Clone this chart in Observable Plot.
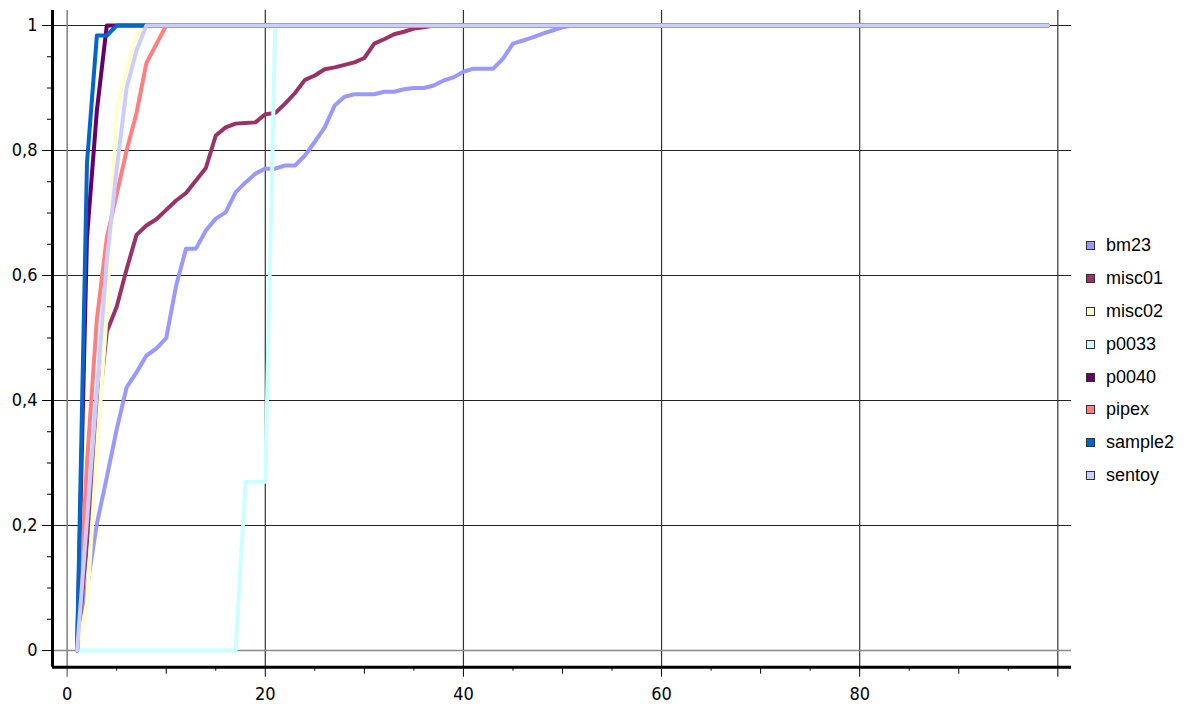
<!DOCTYPE html>
<html>
<head>
<meta charset="utf-8">
<script src="https://cdn.jsdelivr.net/npm/d3@7"></script>
<script src="https://cdn.jsdelivr.net/npm/@observablehq/plot@0.6"></script>
<style>
  body { margin: 0; background: #fff; }
  #wrap { position: relative; width: 1191px; height: 704px; }
  #legend { position: absolute; left: 1086px; top: 229px; font-family: "Liberation Sans", "DejaVu Sans", sans-serif; font-size: 18px; color: #000; }
  .row { height: 32.9px; display: flex; align-items: center; white-space: nowrap; }
  .sw { width: 7px; height: 7px; border: 1px solid #333; margin-right: 11px; flex: none; }
</style>
</head>
<body>
<div id="wrap"><div id="chart"></div><div id="legend"></div></div>
<script>
// ---- data ----
const seriesNames = ["bm23", "misc01", "misc02", "p0033", "p0040", "pipex", "sample2", "sentoy"];
const seriesColors = ["#9999ff", "#993366", "#ffffcc", "#ccffff", "#660066", "#ff8080", "#0066cc", "#ccccff"];
const xFirst = 1;   // first x of every series
const xLast = 99;   // every series ends at (99, 1)

const bm23 = [0, 0.1, 0.203, 0.277, 0.354, 0.421, 0.445, 0.472, 0.483, 0.5,
  0.584, 0.643, 0.643, 0.672, 0.691, 0.701, 0.733, 0.749, 0.763, 0.771,
  0.771, 0.776, 0.776, 0.792, 0.814, 0.837, 0.872, 0.886, 0.89, 0.89,
  0.89, 0.894, 0.894, 0.898, 0.9, 0.9, 0.904, 0.912, 0.917, 0.926,
  0.931, 0.931, 0.931, 0.947, 0.971, 0.976, 0.981, 0.987, 0.992, 0.997, 1];
const misc01 = [0, 0.17, 0.36, 0.51, 0.55, 0.61, 0.665, 0.68, 0.69, 0.705,
  0.72, 0.732, 0.752, 0.772, 0.824, 0.837, 0.843, 0.844, 0.845, 0.858,
  0.86, 0.875, 0.892, 0.913, 0.92, 0.93, 0.933, 0.937, 0.941, 0.948,
  0.971, 0.978, 0.986, 0.99, 0.995, 0.997, 1];
const misc02 = [0, 0.075, 0.32, 0.54, 0.87, 0.93, 0.985, 1];
const p0033 = [0, 0, 0, 0, 0, 0, 0, 0, 0, 0, 0, 0, 0, 0, 0, 0, 0, 0.27, 0.27, 0.27, 1];
const p0040 = [0, 0.66, 0.864, 1];
const pipex = [0, 0.30, 0.53, 0.66, 0.73, 0.80, 0.86, 0.94, 0.97, 1];
const sample2 = [0, 0.78, 0.984, 0.984, 1];
const sentoy = [0, 0.208, 0.416, 0.624, 0.77, 0.9, 0.96, 1];
const seriesValues = [bm23, misc01, misc02, p0033, p0040, pipex, sample2, sentoy];

const yMajorTicks = [0, 0.2, 0.4, 0.6, 0.8, 1];
const yTickLabels = ["0", "0,2", "0,4", "0,6", "0,8", "1"];
const yMinorTicks = d3.range(0, 21).map(i => i / 20);
const xLabelTicks = [0, 20, 40, 60, 80];
const xTickLabels = ["0", "20", "40", "60", "80"];
const xGridTicks = [20, 40, 60, 80, 100];

// ---- build table ----
const points = [];
seriesNames.forEach((name, k) => {
  seriesValues[k].forEach((v, i) => points.push({series: name, x: xFirst + i, y: v}));
  points.push({series: name, x: xLast, y: 1});
});

const xDomain = [-1.48, 101.38];
const yDomain = [-0.0267, 1.024];
const yLabelMap = new Map(yMajorTicks.map((d, i) => [d, yTickLabels[i]]));
const xLabelMap = new Map(xLabelTicks.map((d, i) => [d, xTickLabels[i]]));
const tickFont = "'Liberation Sans Narrow', 'DejaVu Sans Condensed', sans-serif";

const chart = Plot.plot({
  width: 1191,
  height: 704,
  marginLeft: 52,
  marginRight: 120,
  marginTop: 10,
  marginBottom: 37.3,
  style: {background: "#fff", fontFamily: tickFont, fontSize: "18px", color: "#000"},
  x: {domain: xDomain, label: null},
  y: {domain: yDomain, label: null},
  color: {domain: seriesNames, range: seriesColors},
  marks: [
    Plot.ruleY(yMajorTicks.filter(d => d !== 0), {stroke: "#222", strokeWidth: 1}),
    Plot.ruleX(xGridTicks, {stroke: "#333", strokeWidth: 1.2}),
    Plot.ruleY([0], {stroke: "#888", strokeWidth: 1.6}),
    Plot.ruleX([0], {stroke: "#888", strokeWidth: 1.6}),
    // y axis ticks
    Plot.axisY(yMinorTicks, {tickSize: 5, fill: "none", stroke: "#000", label: null}),
    Plot.axisY(yMajorTicks, {tickSize: 10, fill: "none", stroke: "#000", label: null}),
    Plot.axisY(yMajorTicks, {tickSize: 0, tickPadding: 15, tickFormat: d => yLabelMap.get(d), label: null, fontSize: 18, fontFamily: tickFont}),
    // x axis ticks
    Plot.axisX(d3.range(5, 101, 10), {tickSize: 4, fill: "none", stroke: "#000", label: null}),
    Plot.axisX([10, 30, 50, 70, 90], {tickSize: 7, fill: "none", stroke: "#000", label: null}),
    Plot.axisX([20, 40, 60, 80, 100], {tickSize: 10, fill: "none", stroke: "#000", label: null}),
    Plot.axisX([0], {tickSize: 10, fill: "none", stroke: "#888", strokeWidth: 1.6, label: null}),
    Plot.axisX(xLabelTicks, {tickSize: 0, tickPadding: 20, tickFormat: d => xLabelMap.get(d), label: null, fontSize: 18, fontFamily: tickFont}),
    // data lines
    Plot.line(points, {x: "x", y: "y", z: "series", stroke: "series", strokeWidth: 4}),
    // axis lines
    Plot.ruleX([xDomain[0]], {stroke: "#000", strokeWidth: 3}),
    Plot.ruleY([yDomain[0]], {stroke: "#000", strokeWidth: 3})
  ]
});
document.getElementById("chart").appendChild(chart);

// ---- legend ----
const legend = document.getElementById("legend");
seriesNames.forEach((name, k) => {
  const row = document.createElement("div");
  row.className = "row";
  const sw = document.createElement("span");
  sw.className = "sw";
  sw.style.background = seriesColors[k];
  const label = document.createElement("span");
  label.textContent = name;
  row.appendChild(sw);
  row.appendChild(label);
  legend.appendChild(row);
});
</script>
</body>
</html>
